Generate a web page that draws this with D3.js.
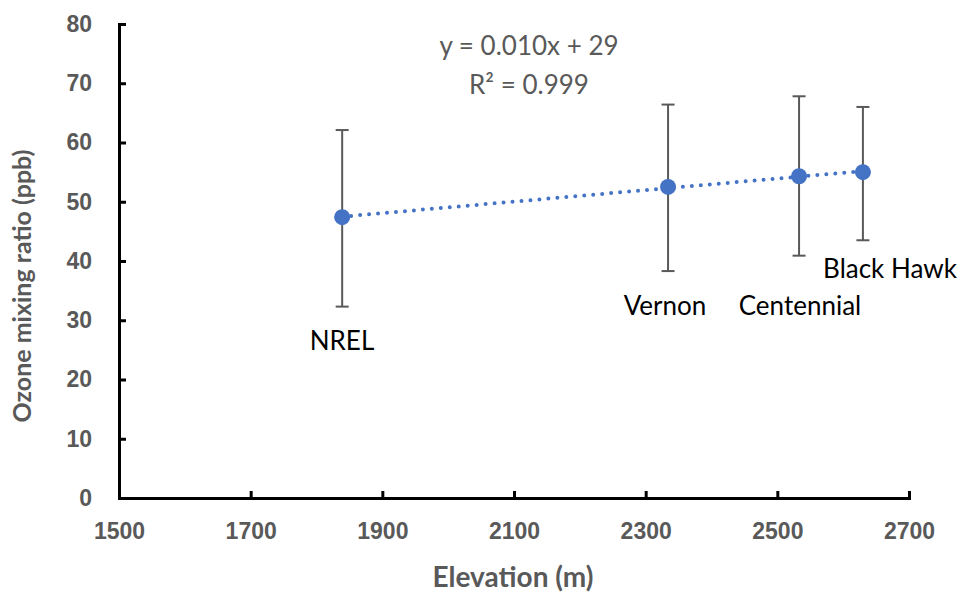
<!DOCTYPE html>
<html>
  <head>
    <meta charset="utf-8">
    <title>Ozone vs elevation</title>
    <script src="https://d3js.org/d3.v7.min.js"></script>
    <style>
      body { margin: 0; background: #fff; }
      svg { display: block; font-family: Lato, "Open Sans", sans-serif; }
    </style>
  </head>
  <body>
    <div id="chart"></div>
    <script>
      // data
      var sites = ["NREL", "Vernon", "Centennial", "Black Hawk"];
      var elevation = [1839, 2334, 2533, 2630];
      var ozone = [47.4, 52.5, 54.3, 55.0];
      var errLow = [32.3, 38.3, 40.9, 43.5];
      var errHigh = [62.1, 66.4, 67.8, 66.0];
      var labelPos = [[342, 350], [665, 315], [800, 315], [890, 278]];
      var xTicks = [1500, 1700, 1900, 2100, 2300, 2500, 2700];
      var yTicks = [0, 10, 20, 30, 40, 50, 60, 70, 80];
      var equation = ["y = 0.010x + 29", "R² = 0.999"];

      var width = 963, height = 592;
      var grey = "#595959", blue = "#4472C4";

      var svg = d3.select("#chart").append("svg")
        .attr("width", width)
        .attr("height", height);

      var x = d3.scaleLinear().domain([1500, 2700]).range([119, 909]);
      var y = d3.scaleLinear().domain([0, 80]).range([498, 24]);

      // axes
      var xAxis = svg.append("g")
        .attr("transform", "translate(0," + y(0) + ")")
        .call(d3.axisBottom(x).tickValues(xTicks).tickFormat(d3.format("d"))
          .tickSizeInner(-7).tickSizeOuter(-7).tickPadding(25));
      var yAxis = svg.append("g")
        .attr("transform", "translate(" + x(1500) + ",0)")
        .call(d3.axisLeft(y).tickValues(yTicks).tickSizeInner(-7).tickSizeOuter(-7).tickPadding(27));
      [xAxis, yAxis].forEach(function(a) {
        a.selectAll("path, line").attr("stroke", "#000").attr("stroke-width", 3);
        a.selectAll("text")
          .attr("fill", grey)
          .style("font-size", "23px")
          .style("font-weight", "bold");
      });

      // axis titles
      svg.append("text")
        .attr("x", 513).attr("y", 587)
        .attr("text-anchor", "middle")
        .attr("fill", grey)
        .style("font-size", "28px").style("font-weight", "bold")
        .text("Elevation (m)");
      svg.append("text")
        .attr("transform", "translate(31,286) rotate(-90)")
        .attr("text-anchor", "middle")
        .attr("fill", grey)
        .style("font-size", "25px").style("font-weight", "bold")
        .text("Ozone mixing ratio (ppb)");

      // linear trendline (least squares)
      var mx = d3.mean(elevation), my = d3.mean(ozone);
      var slope = d3.sum(elevation, function(e, i) { return (e - mx) * (ozone[i] - my); }) /
        d3.sum(elevation, function(e) { return (e - mx) * (e - mx); });
      var icpt = my - slope * mx;
      var ext = d3.extent(elevation);
      svg.append("path")
        .datum(ext)
        .attr("d", d3.line()
          .x(function(d) { return x(d); })
          .y(function(d) { return y(icpt + slope * d); }))
        .attr("stroke", blue)
        .attr("stroke-width", 4)
        .attr("stroke-linecap", "round")
        .attr("stroke-dasharray", "0 9")
        .attr("fill", "none");

      // error bars
      var eb = svg.append("g").attr("stroke", grey).attr("stroke-width", 2);
      sites.forEach(function(s, i) {
        var cx = x(elevation[i]);
        eb.append("line").attr("x1", cx).attr("x2", cx).attr("y1", y(errLow[i])).attr("y2", y(errHigh[i]));
        eb.append("line").attr("x1", cx - 6.5).attr("x2", cx + 6.5).attr("y1", y(errLow[i])).attr("y2", y(errLow[i]));
        eb.append("line").attr("x1", cx - 6.5).attr("x2", cx + 6.5).attr("y1", y(errHigh[i])).attr("y2", y(errHigh[i]));
      });

      // points
      svg.selectAll(".pt")
        .data(sites)
        .enter().append("circle")
        .attr("class", "pt")
        .attr("cx", function(d, i) { return x(elevation[i]); })
        .attr("cy", function(d, i) { return y(ozone[i]); })
        .attr("r", 8)
        .attr("fill", blue);

      // site labels
      svg.selectAll(".lbl")
        .data(sites)
        .enter().append("text")
        .attr("class", "lbl")
        .attr("x", function(d, i) { return labelPos[i][0]; })
        .attr("y", function(d, i) { return labelPos[i][1]; })
        .attr("text-anchor", "middle")
        .attr("fill", "#000")
        .style("font-size", "26px")
        .text(function(d) { return d; });

      // trendline equation
      svg.selectAll(".eq")
        .data(equation)
        .enter().append("text")
        .attr("class", "eq")
        .attr("x", 529)
        .attr("y", function(d, i) { return 55 + i * 39; })
        .attr("text-anchor", "middle")
        .attr("fill", grey)
        .style("font-size", "26px")
        .text(function(d) { return d; });
    </script>
  </body>
</html>
